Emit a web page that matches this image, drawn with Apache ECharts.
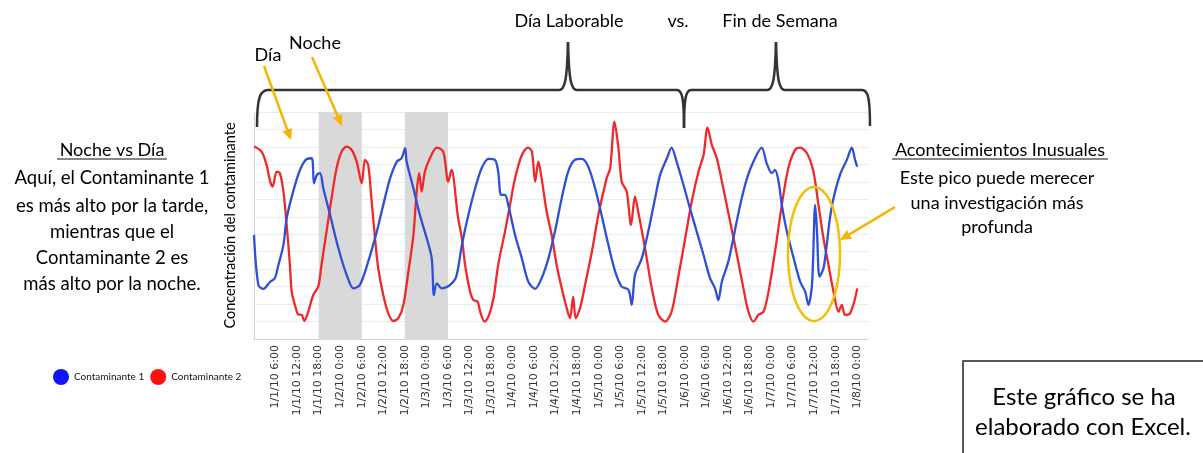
<!DOCTYPE html>
<html><head><meta charset="utf-8">
<script src="https://cdn.jsdelivr.net/npm/echarts@6/dist/echarts.min.js"></script>
<style>html,body{margin:0;padding:0;background:#fff}#c{width:1203px;height:453px}</style>
</head><body><div id="c"></div>
<script>
// ---------- DATA ----------
const tickLabels = [
  '1/1/10 6:00','1/1/10 12:00','1/1/10 18:00','1/2/10 0:00','1/2/10 6:00','1/2/10 12:00','1/2/10 18:00',
  '1/3/10 0:00','1/3/10 6:00','1/3/10 12:00','1/3/10 18:00','1/4/10 0:00','1/4/10 6:00','1/4/10 12:00',
  '1/4/10 18:00','1/5/10 0:00','1/5/10 6:00','1/5/10 12:00','1/5/10 18:00','1/6/10 0:00','1/6/10 6:00',
  '1/6/10 12:00','1/6/10 18:00','1/7/10 0:00','1/7/10 6:00','1/7/10 12:00','1/7/10 18:00','1/8/10 0:00'
];
const seriesNames = ['Contaminante 1', 'Contaminante 2'];
// hours since 1/1/10 0:00
const c1Hours = [0,1.2,2.6,4.5,5.8,6.8,8.2,9.1,10.9,12.8,14.7,16.1,16.7,17.5,18.4,19.3,21.2,23.5,25.8,27.7,29.5,31.8,34.2,36,37.9,39.8,41.1,42.1,42.5,44.4,46.2,48.1,49.5,50.1,50.9,52.3,54.6,56.3,57.9,59.7,61.6,63.4,65.3,67.1,68,68.8,69.9,70.8,72.7,74.6,76.4,78.3,80.1,82,83.8,85.7,87.5,89.4,91.3,93.1,95,96.8,98.7,100.6,102.4,104.3,105.2,106.1,108,109.8,111.7,113.1,115,116.3,117.7,119.6,121.4,123.3,125.2,127,128.4,129.3,130.3,132.1,133.5,135.4,137.3,139.1,141.4,142.8,144.2,145.1,146.1,147,148.4,150.3,152.1,153.5,154.4,155.4,156.3,156.8,157.5,158.6,159.5,160.4,161.4,163.2,165.1,166.5,167.4,168];
const c1Values = [5.96,3.1,2.87,3.28,3.48,4.24,5.39,6.92,8.44,9.68,10.31,10.35,8.92,9.4,9.5,8.63,7.1,5.2,3.67,2.9,3.1,4.43,6.15,7.68,9.2,10.16,10.35,10.93,10.16,8.63,7.1,5.77,4.62,2.52,3.19,2.9,3.1,3.55,5.39,7.1,8.63,9.78,10.31,10.26,9.59,8.25,8.25,7.68,5.96,4.62,3.28,2.87,3.48,4.62,6.15,8.06,9.59,10.26,10.31,9.87,8.63,7.1,5.39,3.86,3.0,2.81,1.95,3.67,4.62,6.15,8.06,9.4,10.35,10.96,10.16,8.83,7.49,6.15,4.81,3.48,2.9,2.23,3.28,4.43,5.77,7.68,9.2,10.16,10.96,10.06,9.5,9.68,9.01,7.68,6.15,4.62,3.28,2.71,1.95,3.1,7.68,6.15,3.57,4.05,5.39,6.92,8.06,9.4,10.26,10.96,10.26,9.87];
const c2Hours = [0,2.1,3.5,4.5,5.2,6.3,7.2,8.2,9.1,10,10.5,11.4,12.3,13.3,14,15.1,16.5,17.9,18.8,20.2,21.6,23,24.4,25.8,27.2,28.6,30,30.9,31.8,32.7,33.7,34.6,36,37.4,38.8,40.2,41.6,43,44.4,45.3,46,46.7,47.6,49,50.9,52.7,54.1,55,56.8,57.9,58.8,60.2,61.1,62.3,63,64.2,65.3,66.7,68,69.9,71.3,72.7,74.6,76.3,77.4,78.3,79.2,80.1,81.5,82.9,84.3,85.7,87.1,88,88.9,89.6,90.8,92.2,94.1,95.9,98.2,99.2,100.4,101.5,102.4,103.8,105,106.1,107,108.9,110.8,112.6,114.5,116.3,118.1,120.1,121.9,123.8,125.2,126.3,127.5,128.9,130.7,132.6,134.5,136.3,137.7,139.1,140.5,141.9,143.3,145.1,147,148.8,150.7,152.1,154,155.8,157.2,158.6,160,161.4,162.8,163.7,164.6,166,167.4,168];
const c2Values = [11.02,10.73,9.97,9.01,8.73,9.59,9.5,8.44,6.53,4.24,2.71,1.95,1.41,1.38,1.03,1.56,2.52,3.0,4.24,6.15,8.06,9.78,10.73,11.02,10.83,10.16,8.92,10.26,9.97,8.06,5.77,4.05,2.52,1.47,1.03,1.19,1.95,3.86,5.96,8.44,9.5,8.44,9.59,10.35,10.96,10.73,9.01,9.68,7.0,5.77,4.24,2.71,2.23,2.14,1.56,1.0,1.28,2.33,4.24,6.15,7.68,9.2,10.54,10.96,10.73,9.01,10.16,9.2,7.3,5.96,4.24,2.9,1.76,1.19,2.42,1.19,1.76,3.1,5.0,7.1,9.2,9.78,12.45,10.93,9.01,8.44,6.53,8.15,7.3,5.2,2.9,1.38,1.0,1.56,3.48,5.77,7.87,9.59,10.54,12.11,11.12,10.35,8.63,6.72,4.81,2.9,1.56,1.0,1.38,1.56,2.71,5.0,7.68,9.78,10.83,10.96,10.64,9.59,7.68,5.77,4.24,2.71,1.56,1.95,1.38,1.47,2.33,2.9];
// night periods (hours) shaded grey
const nightBands = [[18, 30], [42, 54]];

// ---------- CHART ----------
const zip = (xs, ys) => xs.map((x, i) => [x, ys[i]]);
const chart = echarts.init(document.getElementById('c'), null, {renderer: 'canvas'});
const FONT = 'Lato, "Open Sans", sans-serif';
const YEL = '#f5b400';
const INK = '#333';

function arrow(x1, y1, x2, y2) {
  const a = Math.atan2(y2 - y1, x2 - x1), L = 11, W = 5;
  const bx = x2 - L * Math.cos(a), by = y2 - L * Math.sin(a);
  return [
    {type: 'line', shape: {x1, y1, x2: bx, y2: by}, style: {stroke: YEL, lineWidth: 2.5}, z: 100},
    {type: 'polygon', shape: {points: [[x2, y2], [bx + W * Math.sin(a), by - W * Math.cos(a)], [bx - W * Math.sin(a), by + W * Math.cos(a)]]}, style: {fill: YEL}, z: 100}
  ];
}
function txt(s, x, y, size) {
  return {type: 'text', x, y, z: 100,
    style: {text: s, fill: '#000', font: size + 'px ' + FONT, textAlign: 'center', textVerticalAlign: 'middle', align: 'center', verticalAlign: 'middle'}};
}
function seg(x1, y1, x2, y2, w, c) {
  return {type: 'line', shape: {x1, y1, x2, y2}, style: {stroke: c || INK, lineWidth: w || 2.5}, z: 100};
}
function bez(x1, y1, cpx1, cpy1, cpx2, cpy2, x2, y2) {
  return {type: 'bezierCurve', shape: {x1, y1, cpx1, cpy1, cpx2, cpy2, x2, y2}, style: {stroke: INK, lineWidth: 2.5, fill: null}, z: 100};
}
function peak(x, yBase, yTop) {
  return [bez(x - 9, yBase, x - 3, yBase, x - 1, yBase - 10, x, yTop), bez(x, yTop, x + 1, yBase - 10, x + 3, yBase, x + 9, yBase)];
}
function ellipsePts(cx, cy, rx, ry) {
  const p = [];
  for (let i = 0; i <= 90; i++) { const t = i / 90 * Math.PI * 2; p.push([cx + rx * Math.cos(t), cy + ry * Math.sin(t)]); }
  return p;
}

const graphics = [
  // braces
  bez(257, 127, 257, 98, 260, 90, 268, 90),
  seg(268, 90, 559, 90),
  ...peak(568, 90, 42),
  seg(577, 90, 677, 90),
  bez(677, 90, 682, 90, 684, 98, 684, 128),
  bez(684, 128, 684, 98, 686, 90, 691, 90),
  seg(691, 90, 767, 90),
  ...peak(776, 90, 42),
  seg(785, 90, 862, 90),
  bez(862, 90, 868, 90, 870, 98, 870, 126),
  txt('Día Laborable', 569, 21, 18),
  txt('vs.', 678, 21, 18),
  txt('Fin de Semana', 780, 21, 18),
  txt('Día', 268, 55, 18),
  txt('Noche', 315, 43, 18),
  ...arrow(264, 66, 291, 140),
  ...arrow(312, 57, 342, 126),
  {type: 'polyline', shape: {points: ellipsePts(814, 254, 26, 67)}, style: {stroke: '#f2c000', lineWidth: 2.5, fill: null}, z: 100},
  ...arrow(895, 207, 840, 240),
  txt('Noche vs Día', 112, 150, 18), seg(57, 159, 167, 159, 1.2, '#111'),
  txt('Aquí, el Contaminante 1', 112, 178, 18.5),
  txt('es más alto por la tarde,', 112, 206, 18.5),
  txt('mientras que el', 112, 232, 18.5),
  txt('Contaminante 2 es', 112, 258, 18.5),
  txt('más alto por la noche.', 112, 284, 18.5),
  txt('Acontecimientos Inusuales', 1000, 150, 18), seg(892, 159, 1108, 159, 1.2, '#111'),
  txt('Este pico puede merecer', 997, 178, 18),
  txt('una investigación más', 997, 203, 18),
  txt('profunda', 997, 227, 18),
  {type: 'rect', shape: {x: 963, y: 361, width: 260, height: 120}, style: {stroke: '#222', lineWidth: 1.5, fill: '#fff'}, z: 90},
  txt('Este gráfico se ha', 1084, 397, 24),
  txt('elaborado con Excel.', 1083, 427, 24)
];

chart.setOption({
  animation: false,
  backgroundColor: '#fff',
  grid: {left: 254, right: 335, top: 112, bottom: 114, containLabel: false},
  legend: {
    left: 48, top: 364, icon: 'circle', itemWidth: 16, itemHeight: 16, itemGap: 6,
    textStyle: {fontFamily: FONT, fontSize: 10, color: '#111'},
    data: [
      {name: seriesNames[0], itemStyle: {color: '#1212ff'}},
      {name: seriesNames[1], itemStyle: {color: '#ff1010'}}
    ]
  },
  xAxis: {
    type: 'value', min: 0, max: 171, interval: 6,
    axisLine: {show: true, lineStyle: {color: '#d4d4d4', width: 1}},
    axisTick: {show: false},
    splitLine: {show: false},
    axisLabel: {
      rotate: 90, margin: 6, color: '#333', fontFamily: '"DejaVu Sans", sans-serif', fontSize: 11,
      showMinLabel: true, showMaxLabel: true,
      formatter: v => {
        const i = Math.round(v / 6) - 1;
        return (Math.abs(v % 6) < 1e-6 && i >= 0 && i < tickLabels.length) ? tickLabels[i] : '';
      }
    }
  },
  yAxis: {
    type: 'value', min: 0, max: 13, interval: 1,
    name: 'Concentración del contaminante', nameLocation: 'middle', nameGap: 16,
    nameTextStyle: {fontFamily: FONT, fontSize: 14.5, color: '#000'},
    axisLine: {show: true, lineStyle: {color: '#d4d4d4'}},
    axisTick: {show: false},
    axisLabel: {show: false},
    splitLine: {show: true, lineStyle: {color: '#ececec', width: 1}}
  },
  series: [
    {
      name: seriesNames[0], type: 'line', data: zip(c1Hours, c1Values),
      showSymbol: false, symbol: 'circle', smooth: 0.3,
      itemStyle: {color: '#1212ff'},
      lineStyle: {color: '#2f4fd6', width: 2.3}, z: 3,
      markArea: {
        silent: true,
        itemStyle: {color: '#d9d9d9', opacity: 1},
        data: nightBands.map(b => [{xAxis: b[0]}, {xAxis: b[1]}])
      }
    },
    {
      name: seriesNames[1], type: 'line', data: zip(c2Hours, c2Values),
      showSymbol: false, symbol: 'circle', smooth: 0.3,
      itemStyle: {color: '#ff1010'},
      lineStyle: {color: '#f0282a', width: 2.3}, z: 2
    }
  ],
  graphic: graphics
});
</script>
</body></html>
